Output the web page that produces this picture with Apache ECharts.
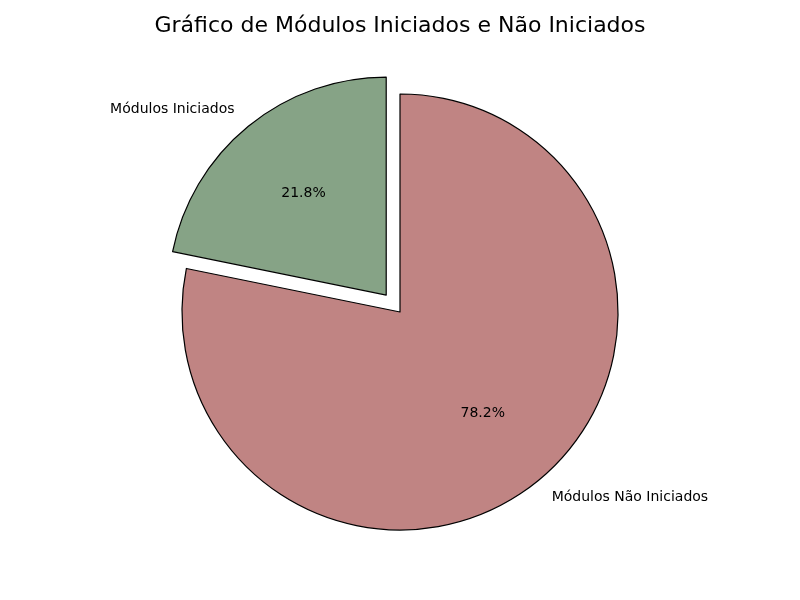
<!DOCTYPE html>
<html>
<head>
<meta charset="utf-8">
<script src="https://cdn.jsdelivr.net/npm/echarts@6/dist/echarts.min.js"></script>
<style>html,body{margin:0;padding:0;background:#fff}#chart{width:800px;height:600px}</style>
</head>
<body>
<div id="chart"></div>
<script>
const categories = ['Módulos Iniciados', 'Módulos Não Iniciados'];
const values = [21.8, 78.2];
const colors = ['#86a386', '#c08483'];
const exploded = [true, false];

const R = 218;
const offset = 0.1 * R;
const font = 'DejaVu Sans';

const mainData = categories.map((c, i) => ({
  name: c, value: values[i], selected: exploded[i],
  itemStyle: { color: colors[i] }
}));
const pctData = categories.map((c, i) => ({
  name: c, value: values[i], selected: exploded[i]
}));

const chart = echarts.init(document.getElementById('chart'));
chart.setOption({
  animation: false,
  backgroundColor: '#fff',
  title: {
    text: 'Gráfico de Módulos Iniciados e Não Iniciados',
    left: 'center', top: 10,
    textStyle: { fontFamily: font, fontSize: 22, fontWeight: 'normal', color: '#000' }
  },
  series: [
    {
      type: 'pie',
      center: [400, 312],
      radius: [0, R],
      startAngle: 90,
      clockwise: false,
      selectedMode: 'multiple',
      selectedOffset: offset,
      avoidLabelOverlap: false,
      silent: true,
      data: mainData,
      itemStyle: { borderColor: '#000', borderWidth: 1.2 },
      select: { itemStyle: { borderColor: '#000', borderWidth: 1.2 } },
      label: {
        show: true, position: 'outside',
        fontFamily: font, fontSize: 14, color: '#000',
        distanceToLabelLine: 0
      },
      labelLine: { show: false, length: 0.1 * R, length2: 0 }
    },
    {
      type: 'pie',
      center: [400, 312],
      radius: [37.6, R],
      startAngle: 90,
      clockwise: false,
      selectedMode: 'multiple',
      selectedOffset: offset,
      avoidLabelOverlap: false,
      silent: true,
      data: pctData,
      itemStyle: { color: 'rgba(0,0,0,0)', borderWidth: 0 },
      select: { itemStyle: { color: 'rgba(0,0,0,0)', borderWidth: 0 } },
      label: {
        show: true, position: 'inside',
        fontFamily: font, fontSize: 14, color: '#000',
        formatter: p => p.percent.toFixed(1) + '%'
      },
      labelLine: { show: false }
    }
  ]
});
</script>
</body>
</html>
